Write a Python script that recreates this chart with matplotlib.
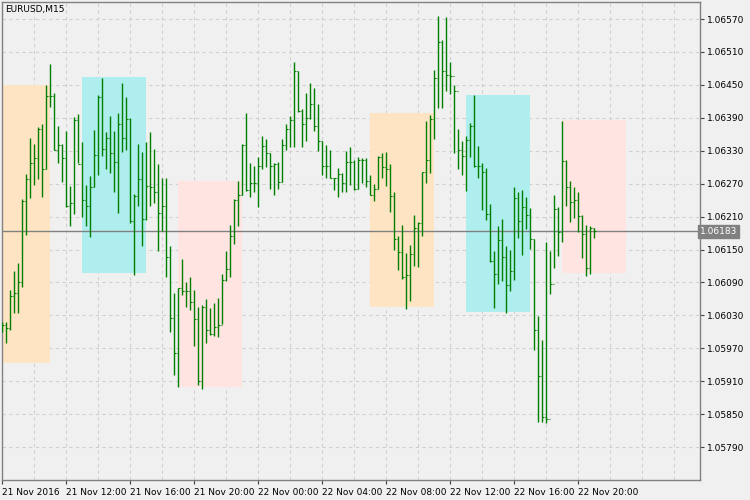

import matplotlib
matplotlib.use("Agg")
import matplotlib.pyplot as plt
from matplotlib.patches import Rectangle

symbol = "EURUSD,M15"
H4 = [6018,6018,6076,6110,6126,6242,6288,6354,6342,6373,6379,6449,6488,6436,6375,6343,6366,6266,6391,6397,6346,6267,6284,6368,6431,6462,6364,6393,6366,6399,6453,6428,6389,6251,6342,6328,6346,6365,6334,6306,6281,6281,6156,6070,6080,6133,6091,6100,6076,6046,6049,6060,6043,6052,6061,6106,6147,6195,6242,6274,6343,6399,6308,6303,6319,6357,6351,6325,6308,6310,6351,6379,6393,6492,6475,6406,6435,6454,6445,6415,6348,6340,6332,6280,6298,6289,6329,6336,6313,6319,6317,6317,6286,6269,6321,6325,6328,6306,6254,6175,6195,6144,6158,6213,6201,6292,6384,6395,6478,6575,6531,6574,6492,6449,6370,6348,6357,6380,6431,6339,6307,6298,6233,6147,6193,6206,6156,6149,6264,6255,6258,6246,6225,6170,6029,5985,6163,6147,6249,6228,6384,6313,6275,6264,6254,6212,6195,6193,6189]
L4 = [6000,5980,6004,6034,6034,6082,6176,6243,6268,6279,6245,6296,6410,6331,6307,6273,6227,6192,6215,6307,6210,6193,6173,6264,6286,6320,6296,6290,6255,6217,6328,6331,6198,6104,6230,6157,6204,6230,6235,6148,6184,6100,6000,5922,5899,6068,6046,6040,5975,5904,5896,5979,5994,5993,5990,6014,6093,6099,6160,6192,6250,6256,6245,6254,6228,6296,6301,6261,6250,6260,6273,6332,6336,6337,6401,6337,6348,6387,6366,6330,6286,6281,6281,6258,6246,6254,6255,6267,6258,6260,6272,6264,6249,6239,6261,6280,6266,6219,6149,6113,6097,6042,6057,6120,6119,6175,6272,6290,6352,6408,6408,6438,6433,6325,6297,6286,6257,6319,6301,6281,6222,6204,6128,6044,6087,6093,6035,6075,6094,6171,6140,6187,6151,5966,5836,5836,5834,6069,6117,6139,6163,6230,6201,6208,6182,6135,6102,6106,6171]
C4 = [6012,6007,6066,6070,6090,6238,6278,6308,6316,6370,6297,6430,6430,6332,6340,6316,6229,6234,6386,6305,6240,6229,6263,6322,6427,6334,6354,6325,6309,6379,6354,6388,6202,6248,6278,6206,6266,6263,6255,6216,6229,6137,6026,5961,6079,6074,6075,6054,6023,5910,6046,6004,5996,6008,6012,6094,6114,6175,6240,6250,6340,6258,6271,6271,6302,6339,6325,6303,6305,6273,6340,6370,6386,6475,6402,6378,6389,6416,6375,6347,6302,6302,6281,6280,6287,6272,6309,6310,6260,6313,6313,6275,6250,6261,6319,6301,6296,6247,6170,6145,6100,6103,6142,6190,6199,6291,6314,6387,6462,6529,6475,6468,6467,6439,6331,6321,6349,6375,6302,6302,6291,6215,6129,6105,6167,6136,6085,6110,6243,6202,6228,6213,6170,6003,5919,5845,5842,6088,6224,6181,6312,6263,6236,6241,6211,6178,6116,6189,6183]
highs = [1 + v / 1e5 for v in H4]
lows = [1 + v / 1e5 for v in L4]
closes = [1 + v / 1e5 for v in C4]
opens = [closes[0]] + closes[:-1]

box_start = [-4, 20, 44, 92, 116, 140]
box_top = [1.06450, 1.06464, 1.06275, 1.06399, 1.06432, 1.06386]
box_bot = [1.05943, 1.06107, 1.05900, 1.06045, 1.06036, 1.06107]
box_col = ["#ffe4c4", "#afeeee", "#ffe4e1", "#ffe4c4", "#afeeee", "#ffe4e1"]

yticks = [1.05790, 1.05850, 1.05910, 1.05970, 1.06030, 1.06090, 1.06150, 1.06210,
          1.06270, 1.06330, 1.06390, 1.06450, 1.06510, 1.06570]
xlabels = ["21 Nov 2016", "21 Nov 12:00", "21 Nov 16:00", "21 Nov 20:00", "22 Nov 00:00",
           "22 Nov 04:00", "22 Nov 08:00", "22 Nov 12:00", "22 Nov 16:00", "22 Nov 20:00"]
last_price = 1.06183

fig = plt.figure(figsize=(7.5, 5), dpi=100)
fig.patch.set_facecolor("#f0f0f0")
ax = fig.add_axes([2/750, 20/500, 698/750, 478/500])
ax.set_facecolor("#f0f0f0")
ax.set_xlim(-0.1, 174.4)
ax.set_ylim(1.05730, 1.06601)

for k in range(8, 175, 8):
    ax.axvline(k, color="#d0d0d0", ls=(0, (3, 3)), lw=0.8, zorder=0)
for y in yticks:
    ax.axhline(y, color="#d0d0d0", ls=(0, (3, 3)), lw=0.8, zorder=0)

for s, t, b, c in zip(box_start, box_top, box_bot, box_col):
    ax.add_patch(Rectangle((s, b), 16, t - b, facecolor=c, edgecolor="none", zorder=1))

ax.axhline(last_price, color="#808080", lw=1, zorder=2)

n = len(closes)
xs = list(range(n))
ax.vlines(xs, lows, highs, color="#008000", lw=1.0, zorder=3)
ax.hlines(opens, [x - 0.4 for x in xs], xs, color="#008000", lw=0.8, zorder=3)
ax.hlines(closes, xs, [x + 0.4 for x in xs], color="#008000", lw=0.8, zorder=3)

ax.yaxis.tick_right()
ax.set_yticks(yticks)
ax.set_yticklabels(["%.5f" % v for v in yticks], fontsize=6.5, color="#000000")
ax.tick_params(axis="y", length=3, width=0.8, color="#404040", pad=2)
ax.set_xticks(list(range(0, 150, 16)))
ax.set_xticklabels(xlabels, fontsize=6.5, ha="left")
ax.tick_params(axis="x", length=3, width=0.8, color="#404040", pad=3)
for sp in ax.spines.values():
    sp.set_color("#808080")
    sp.set_linewidth(1)

ax.text(1.0, last_price, "%.5f" % last_price, transform=ax.get_yaxis_transform(),
        fontsize=6.5, color="white", va="center", ha="left",
        bbox=dict(boxstyle="square,pad=0.2", fc="#808080", ec="#808080"))
ax.text(0.005, 0.993, symbol, transform=ax.transAxes, fontsize=6.5, va="top", ha="left")

fig.savefig("out.png", dpi=100, facecolor=fig.get_facecolor())
